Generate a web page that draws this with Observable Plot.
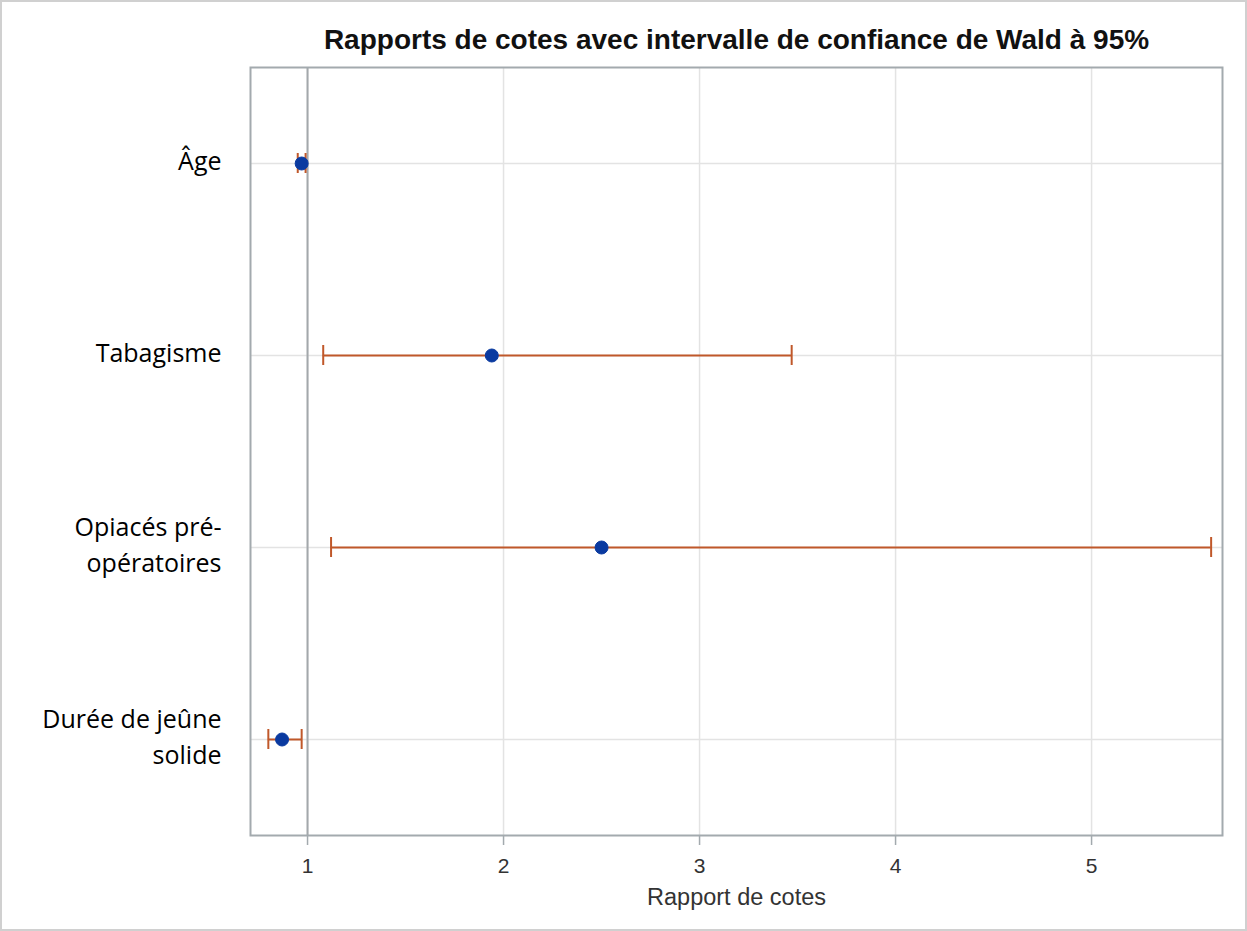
<!DOCTYPE html>
<html>
<head>
<meta charset="utf-8">
<script src="https://cdn.jsdelivr.net/npm/d3@7"></script>
<script src="https://cdn.jsdelivr.net/npm/@observablehq/plot@0.6"></script>
<style>
  html, body { margin: 0; padding: 0; background: #fff; }
  #wrap { position: relative; width: 1247px; height: 931px; }
  #wrap svg { display: block; }
  #border { position: absolute; left: 0; top: 0; width: 1247px; height: 931px; box-sizing: border-box; border: 2px solid #d0d0d0; pointer-events: none; }
</style>
</head>
<body>
<div id="wrap"><div id="border"></div></div>
<script>
const categories = ["Âge", "Tabagisme", "Opiacés pré-\nopératoires", "Durée de jeûne\nsolide"];
const oddsRatio = [0.97, 1.94, 2.50, 0.87];
const lowerCI = [0.95, 1.08, 1.12, 0.80];
const upperCI = [0.99, 3.47, 5.61, 0.97];
const xTicks = [1, 2, 3, 4, 5];
const xTickLabels = ["1", "2", "3", "4", "5"];

const data = categories.map((c, i) => ({cat: c, or: oddsRatio[i], lo: lowerCI[i], hi: upperCI[i]}));
const tickData = xTicks.map((v, i) => ({v, label: xTickLabels[i]}));

const W = 1247, H = 931;
const mL = 250, mR = 25, mT = 67, mB = 96;
const bandH = (H - mT - mB) / categories.length;
const capInset = (bandH - 20) / 2;
const errColor = "#c0582a";
const ptColor = "#0a3aa0";

const chart = Plot.plot({
  width: W,
  height: H,
  marginLeft: mL,
  marginRight: mR,
  marginTop: mT,
  marginBottom: mB,
  style: {fontFamily: "'Liberation Sans', Arial, sans-serif", background: "#fff"},
  x: {domain: [0.709, 5.668], ticks: xTicks, tickFormat: () => ""},
  y: {type: "band", domain: categories, padding: 0},
  marks: [
    Plot.gridX(xTicks, {stroke: "#e3e3e3", strokeOpacity: 1, strokeWidth: 1.5}),
    Plot.gridY(categories, {stroke: "#e3e3e3", strokeOpacity: 1, strokeWidth: 1.5}),
    Plot.ruleX([1], {stroke: "#a3a8ab", strokeWidth: 2}),
    Plot.frame({stroke: "#a3aaae", strokeWidth: 2}),
    Plot.axisX(xTicks, {tickSize: 10, stroke: "#a3aaae", strokeWidth: 1.5, label: null, tickFormat: () => ""}),
    Plot.text(tickData, {x: "v", text: "label", frameAnchor: "bottom", lineAnchor: "middle", dy: 31, fontSize: 21, fill: "#333"}),
    Plot.axisY({ticks: [], label: null, tickSize: 0}),
    Plot.ruleY(data, {y: "cat", x1: "lo", x2: "hi", stroke: errColor, strokeWidth: 2}),
    Plot.tickX(data, {x: "lo", y: "cat", stroke: errColor, strokeWidth: 2, insetTop: capInset, insetBottom: capInset}),
    Plot.tickX(data, {x: "hi", y: "cat", stroke: errColor, strokeWidth: 2, insetTop: capInset, insetBottom: capInset}),
    Plot.dot(data, {x: "or", y: "cat", r: 6.5, fill: ptColor, stroke: ptColor, strokeWidth: 1}),
    Plot.text(data, {y: "cat", text: "cat", frameAnchor: "left", dx: -29, dy: -5, textAnchor: "end", lineHeight: 1.45, fontSize: 25, fontFamily: "'Open Sans', Lato, sans-serif", fill: "#000"}),
    Plot.text(["Rapports de cotes avec intervalle de confiance de Wald à 95%"], {frameAnchor: "top", lineAnchor: "middle", dy: -27, fontSize: 28, fontWeight: "bold", fill: "#111"}),
    Plot.text(["Rapport de cotes"], {frameAnchor: "bottom", lineAnchor: "middle", dy: 62, fontSize: 23.5, fill: "#333"})
  ]
});
document.getElementById("wrap").prepend(chart);
</script>
</body>
</html>
